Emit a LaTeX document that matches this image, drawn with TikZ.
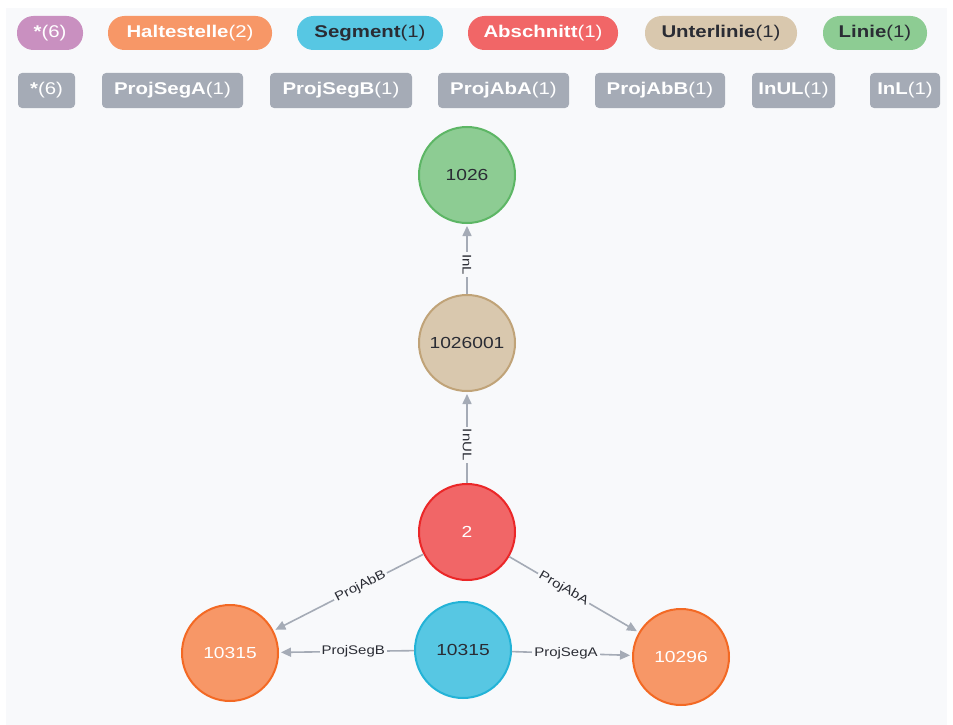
\documentclass[tikz,border=0pt]{standalone}
\usepackage{fontspec}
\setmainfont{Liberation Sans}[FakeStretch=1.2]
\usetikzlibrary{arrows.meta}
\definecolor{bgc}{HTML}{F8F9FB}
\definecolor{edgec}{HTML}{A5ABB6}
\definecolor{txtd}{HTML}{2A2C34}
\definecolor{purp}{HTML}{C990C0}
\definecolor{orgf}{HTML}{F79767}\definecolor{orgb}{HTML}{F36924}
\definecolor{bluf}{HTML}{57C7E3}\definecolor{blub}{HTML}{23B3D7}
\definecolor{redf}{HTML}{F16667}\definecolor{redb}{HTML}{EB2728}
\definecolor{tanf}{HTML}{D9C8AE}\definecolor{tanb}{HTML}{C0A378}
\definecolor{grnf}{HTML}{8DCC93}\definecolor{grnb}{HTML}{5DB665}
\tikzset{
  pill/.style={rounded corners=16.5pt, minimum height=34pt, inner sep=0pt,
    font=\fontsize{17}{17}\selectfont},
  relbox/.style={rounded corners=4pt, minimum height=35pt, inner sep=0pt,
    fill=edgec, text=white, font=\fontsize{17}{17}\selectfont},
  gnode/.style={circle, minimum size=96pt, inner sep=0pt, line width=2pt,
    font=\fontsize{16}{16}\selectfont},
  edge/.style={draw=edgec, line width=1.6pt, -{Triangle[length=10pt,width=9pt]}, shorten >=2pt},
  elab/.style={fill=bgc, inner sep=2pt, text=txtd, font=\fontsize{12.5}{12.5}\selectfont}
}
\begin{document}
\begin{tikzpicture}[x=1pt,y=-1pt]
\useasboundingbox (0,0) rectangle (953,725);
\fill[white] (0,0) rectangle (953,725);
\fill[bgc] (6,8) rectangle (947,725);
% legend row 1
\node[pill, fill=purp, text=white, minimum width=66pt] (lAll) at (50,33) {\textbf{*}(6)};
\node[pill, fill=orgf, text=white, minimum width=164pt] (lHalt) at (190,33) {\textbf{Haltestelle}(2)};
\node[pill, fill=bluf, text=txtd, minimum width=146pt] (lSeg) at (370,33) {\textbf{Segment}(1)};
\node[pill, fill=redf, text=white, minimum width=150pt] (lAbs) at (543,33) {\textbf{Abschnitt}(1)};
\node[pill, fill=tanf, text=txtd, minimum width=152pt] (lUL) at (721,33) {\textbf{Unterlinie}(1)};
\node[pill, fill=grnf, text=txtd, minimum width=104pt] (lLin) at (875,33) {\textbf{Linie}(1)};
% legend row 2
\node[relbox, minimum width=57pt] (rAll) at (46.5,90.5) {\textbf{*}(6)};
\node[relbox, minimum width=141pt] (rPSA) at (172.5,90.5) {\textbf{ProjSegA}(1)};
\node[relbox, minimum width=142pt] (rPSB) at (341,90.5) {\textbf{ProjSegB}(1)};
\node[relbox, minimum width=131pt] (rPAA) at (503.5,90.5) {\textbf{ProjAbA}(1)};
\node[relbox, minimum width=130pt] (rPAB) at (660,90.5) {\textbf{ProjAbB}(1)};
\node[relbox, minimum width=83pt] (rInUL) at (793.5,90.5) {\textbf{InUL}(1)};
\node[relbox, minimum width=70pt] (rInL) at (905,90.5) {\textbf{InL}(1)};
% graph nodes
\node[gnode, fill=grnf, draw=grnb, text=txtd] (lin) at (467,175) {1026};
\node[gnode, fill=tanf, draw=tanb, text=txtd] (ul) at (467,343) {1026001};
\node[gnode, fill=redf, draw=redb, text=white] (abs) at (467,532) {2};
\node[gnode, fill=orgf, draw=orgb, text=white] (hL) at (230,653) {10315};
\node[gnode, fill=bluf, draw=blub, text=txtd] (seg) at (463,650) {10315};
\node[gnode, fill=orgf, draw=orgb, text=white] (hR) at (681,657) {10296};
% edges
\draw[edge] (ul) -- node[elab, pos=.42, rotate=-90] {InL} (lin);
\draw[edge] (abs) -- node[elab, pos=.42, rotate=-90] {InUL} (ul);
\draw[edge] (abs) -- node[elab, pos=.42, rotate=27] {ProjAbB} (hL);
\draw[edge] (abs) -- node[elab, pos=.42, rotate=-30] {ProjAbA} (hR);
\draw[edge] (seg) -- node[elab, pos=.45] {ProjSegB} (hL);
\draw[edge] (seg) -- node[elab, pos=.45] {ProjSegA} (hR);
\end{tikzpicture}
\end{document}
